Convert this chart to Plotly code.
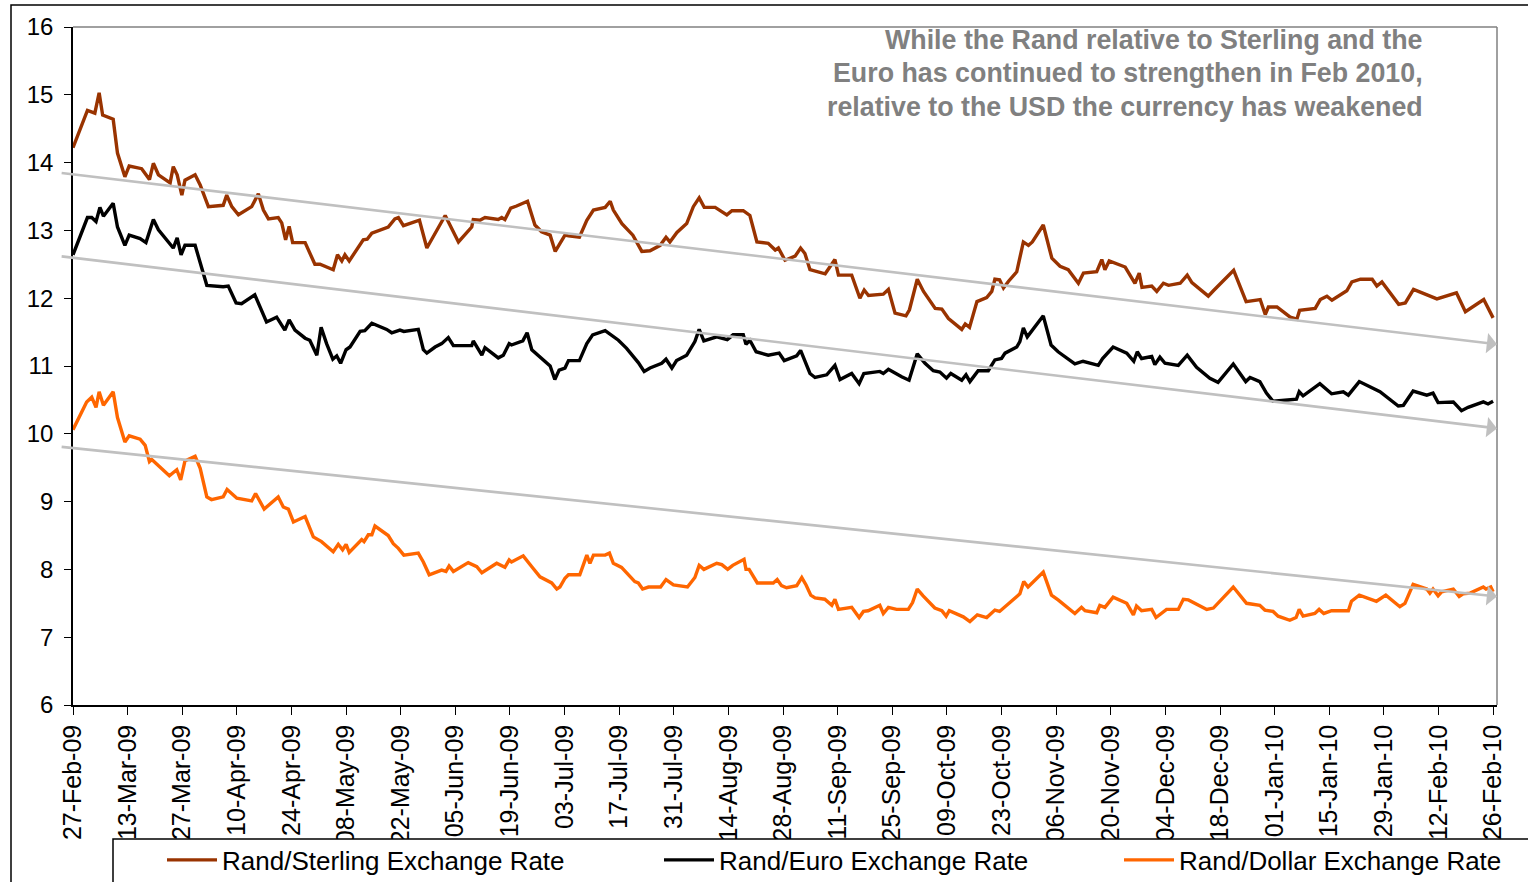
import plotly.graph_objects as go
import pandas as pd

# ---------------- data (days since 27-Feb-2009, value) ----------------
START = pd.Timestamp("2009-02-27")

gbp_days = [0, 3.7, 5.6, 6.7, 7.6, 10.3, 11.4, 13.3, 14.4, 17.6,
            19.6, 20.6, 21.9, 24.9, 25.7, 26.7, 27.9, 28.7, 31.3, 32.6,
            34.7, 38.5, 39.4, 40.7, 42.4, 45.8, 47.5, 48.8, 50.1, 52.6,
            53.5, 54.5, 55.4, 56.3, 59.5, 62.0, 63.3, 66.7, 67.8, 68.9,
            69.7, 70.8, 74.4, 75.4, 76.6, 80.8, 82.5, 83.4, 84.7, 88.8,
            90.7, 95.4, 98.8, 102.2, 102.6, 104.3, 105.6, 109.0, 109.9, 110.7,
            112.2, 113.7, 116.5, 118.4, 120.1, 122.3, 123.6, 126.1, 127.0, 129.8,
            131.7, 133.4, 136.4, 137.7, 138.5, 140.7, 143.5, 145.8, 147.9, 150.5,
            152.0, 153.0, 154.8, 157.3, 159.0, 160.5, 161.8, 164.6, 167.6, 168.9,
            171.8, 173.5, 175.3, 178.2, 180.0, 180.8, 182.5, 185.1, 186.5, 187.6,
            188.9, 192.8, 195.3, 196.2, 199.6, 200.5, 201.7, 202.8, 203.9, 207.7,
            209.0, 210.7, 213.5, 214.4, 216.4, 218.0, 221.0, 222.7, 224.4, 227.8,
            228.7, 229.8, 231.7, 234.2, 235.5, 236.3, 237.5, 238.5, 239.8, 241.9,
            243.6, 244.9, 245.9, 248.7, 250.9, 253.0, 255.1, 257.7, 259.0, 262.4,
            263.7, 264.5, 265.6, 269.7, 272.2, 273.3, 274.0, 276.5, 277.8, 279.5,
            280.8, 283.8, 285.6, 286.8, 291.0, 292.3, 297.5, 300.7, 304.3, 305.6,
            306.4, 308.6, 312.0, 313.7, 314.4, 318.4, 319.7, 321.4, 322.7, 326.5,
            327.8, 330.0, 333.0, 334.2, 335.5, 339.8, 341.5, 343.6, 347.1, 349.6,
            354.6, 356.9, 361.6, 363.6, 364.0]
gbp_vals = [14.22, 14.77, 14.73, 15.03, 14.70, 14.64, 14.14, 13.79, 13.95, 13.91,
            13.75, 13.99, 13.82, 13.70, 13.94, 13.82, 13.52, 13.74, 13.82, 13.67,
            13.35, 13.37, 13.52, 13.35, 13.23, 13.35, 13.54, 13.30, 13.17, 13.19,
            13.11, 12.86, 13.06, 12.82, 12.82, 12.50, 12.50, 12.42, 12.64, 12.55,
            12.64, 12.55, 12.86, 12.87, 12.96, 13.05, 13.17, 13.19, 13.07, 13.15,
            12.74, 13.22, 12.83, 13.05, 13.16, 13.15, 13.19, 13.16, 13.19, 13.16,
            13.33, 13.36, 13.43, 13.08, 12.98, 12.93, 12.69, 12.93, 12.92, 12.90,
            13.15, 13.30, 13.34, 13.43, 13.30, 13.10, 12.93, 12.69, 12.70, 12.78,
            12.90, 12.83, 12.97, 13.10, 13.35, 13.48, 13.34, 13.34, 13.23, 13.29,
            13.29, 13.22, 12.83, 12.81, 12.71, 12.74, 12.56, 12.62, 12.74, 12.66,
            12.42, 12.36, 12.57, 12.34, 12.34, 12.19, 12.00, 12.12, 12.04, 12.06,
            12.13, 11.78, 11.74, 11.83, 12.28, 12.10, 11.85, 11.84, 11.70, 11.54,
            11.62, 11.57, 11.95, 12.01, 12.10, 12.28, 12.27, 12.15, 12.25, 12.39,
            12.83, 12.78, 12.83, 13.08, 12.59, 12.47, 12.42, 12.22, 12.37, 12.39,
            12.57, 12.42, 12.55, 12.46, 12.22, 12.37, 12.16, 12.18, 12.10, 12.22,
            12.19, 12.22, 12.34, 12.23, 12.03, 12.11, 12.41, 11.95, 11.98, 11.76,
            11.87, 11.87, 11.72, 11.69, 11.82, 11.85, 11.98, 12.03, 11.97, 12.11,
            12.24, 12.28, 12.28, 12.18, 12.24, 11.91, 11.93, 12.13, 12.05, 11.99,
            12.08, 11.80, 11.98, 11.75, 11.71]

eur_days = [0, 3.7, 4.8, 5.9, 6.9, 7.8, 10.3, 11.4, 13.3, 14.4,
            17.2, 18.7, 20.6, 21.9, 25.7, 26.7, 27.7, 28.7, 31.3, 34.3,
            38.5, 39.8, 41.8, 43.2, 46.6, 49.6, 52.2, 54.3, 55.4, 56.9,
            59.5, 60.7, 62.5, 63.6, 65.0, 66.6, 67.6, 68.6, 70.0, 71.0,
            73.6, 74.8, 76.6, 80.4, 81.7, 83.8, 84.8, 88.5, 89.8, 90.7,
            92.8, 94.5, 96.2, 97.5, 102.2, 102.6, 104.8, 105.6, 109.0, 110.3,
            111.8, 112.4, 115.3, 116.4, 117.6, 122.3, 123.5, 124.6, 126.1, 127.0,
            129.8, 131.7, 133.2, 136.4, 139.8, 141.9, 144.9, 146.4, 147.9, 150.9,
            152.0, 153.5, 154.7, 157.3, 159.4, 160.5, 161.7, 165.0, 167.7, 169.2,
            171.8, 172.5, 173.5, 175.1, 178.2, 181.0, 182.3, 185.5, 186.5, 188.9,
            190.2, 193.2, 195.3, 196.6, 199.6, 201.5, 202.7, 206.8, 207.7, 209.0,
            212.4, 214.3, 216.4, 218.4, 220.5, 222.2, 223.9, 225.0, 227.8, 228.9,
            229.9, 232.0, 234.6, 236.3, 238.0, 238.9, 241.9, 242.7, 243.6, 244.6,
            248.7, 250.7, 252.5, 256.8, 258.9, 262.8, 263.9, 266.6, 270.1, 271.9,
            272.8, 273.9, 276.5, 277.3, 278.6, 279.9, 283.3, 285.6, 288.0, 291.4,
            293.5, 297.4, 300.6, 301.7, 304.2, 305.9, 307.6, 313.6, 314.3, 315.3,
            319.6, 322.6, 325.6, 326.9, 329.7, 332.4, 335.0, 339.7, 341.0, 343.5,
            347.0, 348.6, 349.9, 353.8, 355.9, 357.6, 361.5, 362.7, 364.0]
eur_vals = [12.64, 13.19, 13.19, 13.13, 13.34, 13.21, 13.40, 13.05, 12.78, 12.93,
            12.88, 12.82, 13.16, 13.01, 12.74, 12.89, 12.64, 12.78, 12.78, 12.19,
            12.17, 12.18, 11.93, 11.92, 12.05, 11.65, 11.72, 11.53, 11.68, 11.53,
            11.41, 11.38, 11.16, 11.57, 11.33, 11.10, 11.15, 11.04, 11.24, 11.28,
            11.51, 11.52, 11.63, 11.54, 11.49, 11.53, 11.51, 11.54, 11.24, 11.19,
            11.28, 11.33, 11.42, 11.30, 11.30, 11.37, 11.16, 11.27, 11.12, 11.16,
            11.33, 11.31, 11.37, 11.49, 11.24, 11.00, 10.80, 10.94, 10.97, 11.08,
            11.08, 11.33, 11.46, 11.52, 11.38, 11.26, 11.05, 10.92, 10.97, 11.04,
            11.10, 10.97, 11.08, 11.16, 11.36, 11.54, 11.37, 11.43, 11.39, 11.46,
            11.46, 11.32, 11.38, 11.21, 11.16, 11.19, 11.08, 11.15, 11.23, 10.89,
            10.83, 10.87, 11.01, 10.80, 10.89, 10.74, 10.89, 10.92, 10.89, 10.95,
            10.84, 10.79, 11.18, 11.04, 10.93, 10.91, 10.82, 10.89, 10.79, 10.87,
            10.77, 10.93, 10.93, 11.09, 11.11, 11.19, 11.28, 11.36, 11.56, 11.43,
            11.74, 11.31, 11.21, 11.03, 11.07, 11.01, 11.11, 11.28, 11.19, 11.07,
            11.21, 11.11, 11.14, 11.02, 11.13, 11.04, 11.01, 11.16, 10.98, 10.82,
            10.76, 11.03, 10.77, 10.83, 10.77, 10.60, 10.48, 10.51, 10.62, 10.56,
            10.74, 10.59, 10.62, 10.57, 10.77, 10.69, 10.62, 10.41, 10.42, 10.63,
            10.57, 10.60, 10.46, 10.47, 10.34, 10.39, 10.47, 10.44, 10.48]

usd_days = [0, 3.5, 4.8, 5.9, 6.7, 7.8, 10.3, 11.4, 13.3, 14.4,
            17.2, 18.5, 19.6, 20.2, 24.7, 26.6, 27.6, 28.7, 31.3, 32.6,
            34.3, 35.5, 38.5, 39.5, 42.0, 45.8, 46.8, 49.0, 52.6, 53.9,
            55.2, 56.5, 59.5, 61.6, 63.7, 66.7, 68.0, 69.1, 70.0, 70.8,
            74.0, 74.6, 75.7, 76.6, 77.4, 80.8, 82.1, 83.4, 84.8, 88.5,
            89.8, 91.3, 94.5, 95.6, 96.4, 97.5, 101.3, 103.5, 104.8, 108.6,
            110.7, 111.8, 112.4, 115.4, 117.6, 119.7, 122.7, 124.0, 124.8, 126.1,
            127.0, 129.9, 131.7, 132.5, 133.4, 136.4, 137.5, 138.5, 140.6, 144.0,
            144.9, 146.0, 147.5, 150.6, 152.0, 153.9, 157.5, 159.4, 160.5, 161.7,
            165.0, 166.3, 167.8, 169.1, 172.0, 172.5, 173.3, 175.4, 179.5, 180.5,
            181.6, 182.9, 185.5, 186.8, 187.9, 189.1, 190.2, 192.7, 194.5, 195.3,
            196.2, 199.6, 201.5, 202.6, 203.8, 206.8, 207.7, 209.0, 211.1, 214.1,
            215.2, 216.4, 217.9, 220.9, 222.7, 223.8, 224.6, 228.2, 229.9, 231.8,
            234.2, 236.3, 237.5, 242.7, 243.7, 244.8, 248.7, 250.8, 252.5, 256.8,
            258.5, 259.4, 262.4, 263.2, 264.5, 266.6, 270.1, 271.8, 272.6, 273.9,
            276.5, 277.6, 280.3, 283.3, 284.6, 285.9, 290.6, 292.3, 297.4, 300.8,
            304.2, 305.5, 307.6, 308.9, 311.9, 313.5, 314.3, 315.3, 318.3, 319.4,
            320.6, 322.6, 326.9, 327.7, 329.7, 334.1, 336.5, 340.1, 341.4, 343.5,
            347.0, 347.8, 348.6, 349.9, 350.8, 353.8, 355.3, 356.3, 358.1, 361.5,
            362.2, 363.4, 364.0]
usd_vals = [10.06, 10.47, 10.54, 10.39, 10.62, 10.42, 10.62, 10.24, 9.88, 9.97,
            9.92, 9.83, 9.59, 9.62, 9.38, 9.47, 9.32, 9.60, 9.67, 9.49,
            9.07, 9.03, 9.07, 9.18, 9.05, 9.01, 9.12, 8.89, 9.07, 8.92,
            8.89, 8.70, 8.78, 8.48, 8.41, 8.26, 8.37, 8.29, 8.37, 8.25,
            8.44, 8.41, 8.51, 8.51, 8.64, 8.50, 8.38, 8.31, 8.21, 8.24,
            8.11, 7.92, 7.99, 7.97, 8.05, 7.97, 8.10, 8.04, 7.95, 8.09,
            8.03, 8.14, 8.11, 8.20, 8.04, 7.89, 7.80, 7.71, 7.74, 7.87,
            7.92, 7.92, 8.21, 8.09, 8.21, 8.21, 8.24, 8.09, 8.03, 7.82,
            7.80, 7.71, 7.74, 7.74, 7.85, 7.77, 7.74, 7.88, 8.06, 8.00,
            8.09, 8.07, 8.00, 8.06, 8.15, 8.00, 8.00, 7.80, 7.80, 7.85,
            7.76, 7.73, 7.76, 7.88, 7.77, 7.62, 7.58, 7.56, 7.47, 7.56,
            7.41, 7.44, 7.29, 7.38, 7.39, 7.47, 7.35, 7.44, 7.41, 7.41,
            7.51, 7.71, 7.61, 7.43, 7.39, 7.31, 7.39, 7.30, 7.23, 7.33,
            7.29, 7.40, 7.38, 7.64, 7.82, 7.74, 7.96, 7.62, 7.55, 7.35,
            7.44, 7.39, 7.36, 7.47, 7.44, 7.59, 7.50, 7.33, 7.46, 7.39,
            7.41, 7.29, 7.41, 7.41, 7.56, 7.55, 7.41, 7.43, 7.74, 7.50,
            7.47, 7.40, 7.38, 7.31, 7.25, 7.29, 7.41, 7.31, 7.35, 7.41,
            7.35, 7.39, 7.39, 7.53, 7.62, 7.53, 7.62, 7.45, 7.50, 7.78,
            7.71, 7.65, 7.71, 7.61, 7.67, 7.71, 7.60, 7.64, 7.65, 7.74,
            7.71, 7.74, 7.67]

series_names = ["Rand/Sterling Exchange Rate", "Rand/Euro Exchange Rate",
                "Rand/Dollar Exchange Rate"]
series_colors = ["#993300", "#000000", "#FF6600"]

# trend arrows: (start day, start value, end day, end value)
trend_start_day = -3.3
trend_end_day = 365.0
trend_start_vals = [13.85, 12.62, 9.81]
trend_end_vals = [11.32, 10.08, 7.60]

tick_dates = ["2009-02-27", "2009-03-13", "2009-03-27", "2009-04-10", "2009-04-24",
              "2009-05-08", "2009-05-22", "2009-06-05", "2009-06-19", "2009-07-03",
              "2009-07-17", "2009-07-31", "2009-08-14", "2009-08-28", "2009-09-11",
              "2009-09-25", "2009-10-09", "2009-10-23", "2009-11-06", "2009-11-20",
              "2009-12-04", "2009-12-18", "2010-01-01", "2010-01-15", "2010-01-29",
              "2010-02-12", "2010-02-26"]
tick_labels = ["27-Feb-09", "13-Mar-09", "27-Mar-09", "10-Apr-09", "24-Apr-09",
               "08-May-09", "22-May-09", "05-Jun-09", "19-Jun-09", "03-Jul-09",
               "17-Jul-09", "31-Jul-09", "14-Aug-09", "28-Aug-09", "11-Sep-09",
               "25-Sep-09", "09-Oct-09", "23-Oct-09", "06-Nov-09", "20-Nov-09",
               "04-Dec-09", "18-Dec-09", "01-Jan-10", "15-Jan-10", "29-Jan-10",
               "12-Feb-10", "26-Feb-10"]

note_lines = ["While the Rand relative to Sterling and the",
              "Euro has continued to strengthen in Feb 2010,",
              "relative to the USD the currency has weakened"]

assert len(gbp_days) == len(gbp_vals)
assert len(eur_days) == len(eur_vals)
assert len(usd_days) == len(usd_vals)


def to_dates(days):
    return [START + pd.Timedelta(days=float(d)) for d in days]


FONT = "Arial, 'Liberation Sans', sans-serif"

fig = go.Figure()
legend_widths = [432, 395, 330]
for days, vals, name, color, lw in zip([gbp_days, eur_days, usd_days],
                                       [gbp_vals, eur_vals, usd_vals],
                                       series_names, series_colors, legend_widths):
    fig.add_trace(go.Scatter(x=to_dates(days), y=vals, mode="lines", name=name,
                             line=dict(color=color, width=3.4), legendwidth=lw))

# layout geometry (pixels)
W, H = 1528, 882
ML, MR, MT, MB = 73, 31, 27, 177
PW, PH = W - ML - MR, H - MT - MB


def px_x(px):
    return (px - ML) / PW


def px_y(py):
    return (H - MB - py) / PH


annotations = []
for sv, ev in zip(trend_start_vals, trend_end_vals):
    annotations.append(dict(
        x=START + pd.Timedelta(days=trend_end_day), y=ev, xref="x", yref="y",
        ax=START + pd.Timedelta(days=trend_start_day), ay=sv, axref="x", ayref="y",
        text="", showarrow=True, arrowhead=1, arrowsize=1.3, arrowwidth=2.6,
        arrowcolor="#C0C0C0", standoff=0, startstandoff=0))

for i, (line, py) in enumerate(zip(note_lines, [40, 73, 107])):
    annotations.append(dict(
        x=px_x(1425), y=px_y(py), xref="paper", yref="paper",
        xanchor="right", yanchor="middle", showarrow=False,
        text="<b>" + line + "</b>",
        font=dict(family=FONT, size=26.8, color="#808080")))

shapes = [
    # outer chart border
    dict(type="rect", xref="paper", yref="paper", x0=px_x(11), x1=px_x(1600),
         y0=px_y(950), y1=px_y(5), line=dict(color="black", width=1.5),
         fillcolor="rgba(0,0,0,0)", layer="below"),
    # plot area top and right border
    dict(type="line", xref="paper", yref="paper", x0=0, x1=1, y0=1, y1=1,
         line=dict(color="#808080", width=1.5)),
    dict(type="line", xref="paper", yref="paper", x0=1, x1=1, y0=0, y1=1,
         line=dict(color="#808080", width=1.5)),
    # legend box
    dict(type="rect", xref="paper", yref="paper", x0=px_x(113), x1=px_x(1600),
         y0=px_y(950), y1=px_y(839), line=dict(color="black", width=1.5),
         fillcolor="white", layer="above"),
]

fig.update_layout(
    width=W, height=H,
    margin=dict(l=ML, r=MR, t=MT, b=MB, autoexpand=False),
    paper_bgcolor="white", plot_bgcolor="white",
    font=dict(family=FONT, color="black"),
    showlegend=True,
    legend=dict(orientation="h", x=px_x(162), xanchor="left", y=px_y(860),
                yanchor="middle", font=dict(family=FONT, size=26, color="black"),
                bgcolor="rgba(0,0,0,0)", borderwidth=0, itemwidth=50,
                traceorder="normal"),
    xaxis=dict(type="date",
               range=[START, START + pd.Timedelta(days=365.0)],
               tickmode="array", tickvals=tick_dates, ticktext=tick_labels,
               tickangle=-90, ticks="outside", ticklen=8, tickwidth=1.2,
               tickcolor="black", showline=True, linecolor="black", linewidth=1.5,
               showgrid=False, zeroline=False,
               tickfont=dict(family=FONT, size=25, color="black")),
    yaxis=dict(range=[6, 16], dtick=1, tick0=6, ticks="outside", ticklen=7,
               tickwidth=1.2, tickcolor="black", showline=True, linecolor="black",
               linewidth=1.5, showgrid=False, zeroline=False,
               ticklabelstandoff=6,
               tickfont=dict(family=FONT, size=24, color="black")),
    annotations=annotations,
    shapes=shapes,
)

fig.write_html("out.html")
